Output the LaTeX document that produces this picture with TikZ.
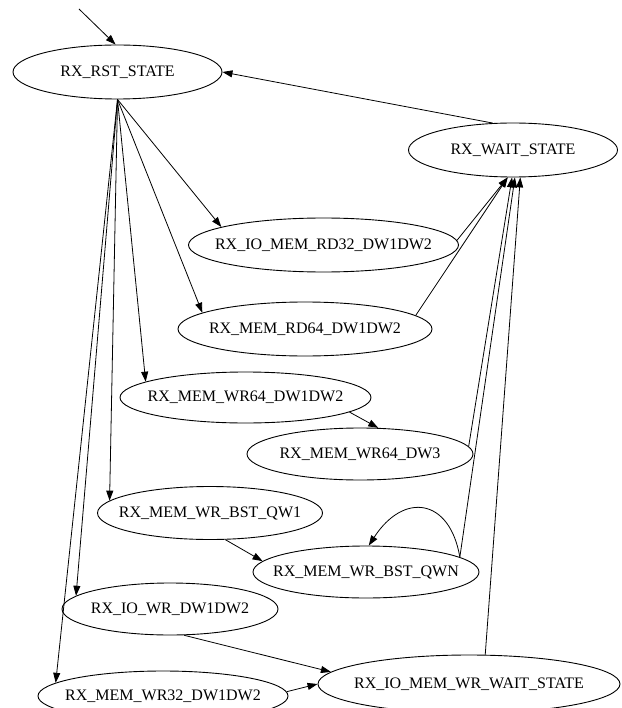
\documentclass[tikz,border=0pt]{standalone}
\usepackage{fontspec}
\setmainfont{Liberation Serif}
\usetikzlibrary{shapes.geometric,arrows.meta}

\begin{document}
\begin{tikzpicture}[x=1pt, y=-1pt, font=\fontsize{16}{19}\selectfont,
    state/.style={draw, ellipse, line width=0.9pt, inner sep=0pt, label={center:#1}},
    edge/.style={line width=0.8pt, -{Triangle[length=10pt,width=7pt]}}]
    \useasboundingbox (0,0) rectangle (621,708);
    % states
    \node[state={RX\_RST\_STATE}, minimum width=209pt, minimum height=54pt] (rst) at (117.5,72) {};
    \node[state={RX\_WAIT\_STATE}, minimum width=209pt, minimum height=54pt] (wait) at (513,150) {};
    \node[state={RX\_IO\_MEM\_RD32\_DW1DW2}, minimum width=270pt, minimum height=54pt] (iord) at (323.5,245) {};
    \node[state={RX\_MEM\_RD64\_DW1DW2}, minimum width=254pt, minimum height=54pt] (rd) at (305,329) {};
    \node[state={RX\_MEM\_WR64\_DW1DW2}, minimum width=251pt, minimum height=51pt] (wr) at (245.5,397.5) {};
    \node[state={RX\_MEM\_WR64\_DW3}, minimum width=226pt, minimum height=52pt] (wrtri) at (360,454) {};
    \node[state={RX\_MEM\_WR\_BST\_QW1}, minimum width=225pt, minimum height=53pt] (bstone) at (210,513) {};
    \node[state={RX\_MEM\_WR\_BST\_QWN}, minimum width=226pt, minimum height=52pt] (bstn) at (366,572) {};
    \node[state={RX\_IO\_WR\_DW1DW2}, minimum width=216pt, minimum height=52pt] (iowr) at (170,609) {};
    \node[state={RX\_MEM\_WR32\_DW1DW2}, minimum width=250pt, minimum height=50pt] (wrdw) at (163,696) {};
    \node[state={RX\_IO\_MEM\_WR\_WAIT\_STATE}, minimum width=302pt, minimum height=58pt] (wrwait) at (469,684) {};
    \coordinate (init) at (79,9);
    % transitions
    \draw[edge] (init) -- (rst.94);
    \draw[edge] (wait.127) -- (rst.east);
    \draw[edge] (rst.south) -- (iord.170);
    \draw[edge] (rst.south) -- (rd.171);
    \draw[edge] (rst.south) -- (wr.171);
    \draw[edge] (rst.south) -- (bstone.173);
    \draw[edge] (rst.south) -- (iowr.172);
    \draw[edge] (rst.south) -- (wrdw.173);
    \draw[edge] (iord.2) -- (wait.259);
    \draw[edge] (rd.7) -- (wait.259);
    \draw[edge] (wrtri.4) -- (wait.268);
    \draw[edge] (bstn.9) -- (wait.274);
    \draw[edge] (wrwait.61) -- (wait.285);
    \draw[edge] (wr.352) -- (wrtri.55);
    \draw[edge] (bstone.300) -- (bstn.174);
    \draw[edge] (bstn.9) .. controls +(-10,-59) and +(35,-54) .. (bstn.84);
    \draw[edge] (iowr.298) -- (wrwait.175);
    \draw[edge] (wrdw.2) -- (wrwait.west);
\end{tikzpicture}
\end{document}
